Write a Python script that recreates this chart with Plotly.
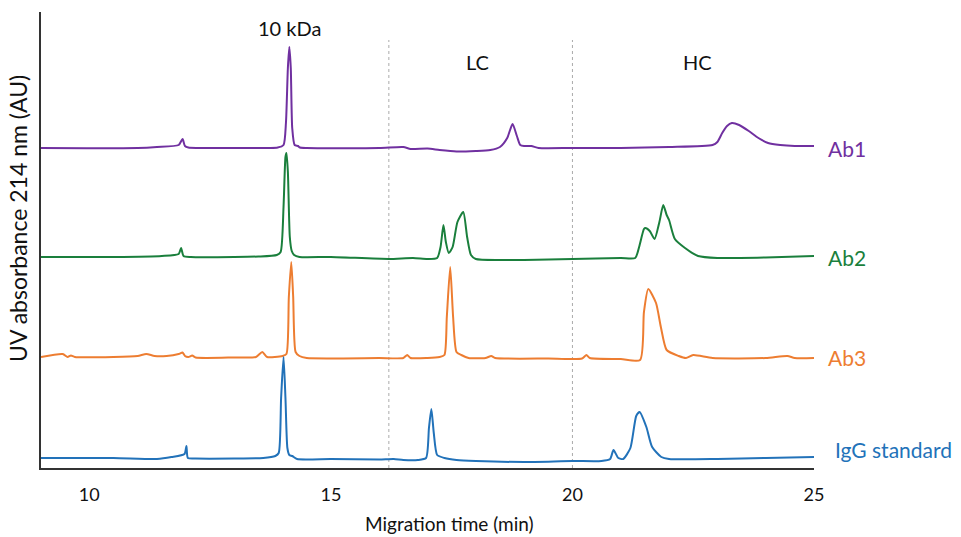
import plotly.graph_objects as go

# Migration time (min) and absorbance above each trace's own baseline (AU)
ab1_t = [9.0, 11.0, 11.4, 11.85, 11.93, 11.98, 12.05, 13.0, 13.9, 14.02, 14.07, 14.11, 14.14, 14.17, 14.20,
         14.25, 14.32, 14.36, 14.5, 16.0, 16.5, 16.65, 17.0, 17.25, 17.6, 18.0, 18.3, 18.5, 18.65, 18.76,
         18.85, 18.92, 19.0, 19.15, 19.3, 20.0, 21.0, 22.0, 22.9, 23.0, 23.1, 23.2, 23.3, 23.45, 23.65,
         23.85, 24.05, 24.3, 24.6, 25.0]
ab1_a = [0.0, 0.0, 0.01, 0.03, 0.09, 0.02, 0.005, 0.0, 0.005, 0.03, 0.25, 0.8, 1.01, 0.8, 0.2,
         0.03, 0.02, 0.005, 0.0, 0.0, 0.01, -0.01, -0.005, -0.02, -0.035, -0.03, -0.02, 0.01, 0.10, 0.24,
         0.12, 0.03, 0.02, 0.02, 0.0, 0.0, 0.0, 0.01, 0.03, 0.06, 0.15, 0.22, 0.25, 0.23, 0.17,
         0.10, 0.05, 0.03, 0.02, 0.02]

ab2_t = [9.0, 10.5, 11.5, 11.85, 11.9, 11.95, 12.1, 13.0, 13.5, 13.88, 13.96, 14.02, 14.06, 14.08, 14.11,
         14.15, 14.19, 14.24, 14.35, 15.0, 16.2, 16.7, 17.0, 17.2, 17.27, 17.33, 17.38, 17.44, 17.52, 17.62,
         17.74, 17.82, 17.9, 18.0, 18.5, 19.0, 20.0, 21.0, 21.3, 21.38, 21.48, 21.51, 21.6, 21.7, 21.8,
         21.88, 21.95, 22.0, 22.12, 22.33, 22.6, 23.0, 24.0, 25.0]
ab2_a = [0.0, 0.0, 0.01, 0.03, 0.09, 0.01, 0.0, 0.0, 0.005, 0.02, 0.05, 0.5, 1.0, 1.04, 0.85,
         0.2, 0.06, 0.02, 0.0, 0.0, -0.02, -0.01, -0.02, -0.01, 0.1, 0.32, 0.15, 0.04, 0.1, 0.35,
         0.45, 0.2, 0.02, -0.02, -0.03, -0.03, -0.02, -0.01, -0.01, 0.1, 0.28, 0.29, 0.26, 0.18, 0.35,
         0.52, 0.42, 0.37, 0.18, 0.09, 0.01, -0.01, -0.005, 0.01]

ab3_t = [9.0, 9.45, 9.55, 9.62, 9.7, 10.5, 11.0, 11.18, 11.35, 11.6, 11.85, 11.93, 11.98, 12.05, 12.13,
         12.2, 13.0, 13.45, 13.58, 13.68, 14.0, 14.08, 14.13, 14.18, 14.22, 14.27, 14.35, 14.5, 16.0, 16.5,
         16.58, 16.65, 17.0, 17.25, 17.35, 17.4, 17.47, 17.53, 17.6, 17.7, 17.85, 18.2, 18.32, 18.4, 19.5,
         20.2, 20.29, 20.36, 21.0, 21.4, 21.48, 21.57, 21.73, 21.83, 21.95, 22.2, 22.35, 22.5, 22.9, 24.0,
         24.45, 24.6, 25.0]
ab3_a = [0.0, 0.03, 0.0, 0.015, 0.0, 0.0, 0.01, 0.03, 0.01, 0.01, 0.03, 0.045, 0.01, 0.0, 0.015,
         -0.005, -0.005, 0.0, 0.05, 0.0, 0.01, 0.03, 0.6, 0.95, 0.6, 0.05, 0.01, -0.01, -0.01, -0.01,
         0.02, -0.01, -0.01, 0.0, 0.02, 0.4, 0.90, 0.4, 0.05, 0.02, -0.01, -0.01, 0.01, -0.01, -0.015,
         -0.015, 0.02, -0.01, -0.02, -0.03, 0.45, 0.68, 0.54, 0.30, 0.07, 0.01, -0.01, 0.02, -0.01, -0.01,
         0.01, -0.01, -0.01]

igg_t = [9.0, 10.5, 11.4, 11.7, 11.97, 12.01, 12.04, 12.2, 13.0, 13.6, 13.85, 13.92, 13.97, 14.02, 14.06,
         14.1, 14.14, 14.2, 14.3, 15.0, 16.0, 16.3, 16.5, 16.8, 16.97, 17.03, 17.08, 17.13, 17.2, 17.35,
         17.6, 18.0, 19.0, 20.0, 20.6, 20.78, 20.85, 20.95, 21.05, 21.2, 21.32, 21.39, 21.53, 21.65, 21.84,
         22.0, 23.0, 24.0, 25.0]
igg_a = [0.0, 0.0, -0.01, 0.01, 0.04, 0.12, 0.0, -0.005, -0.005, 0.0, 0.02, 0.05, 0.6, 1.01, 0.6,
         0.1, 0.03, 0.02, -0.01, -0.01, -0.015, -0.01, -0.02, -0.02, 0.0, 0.3, 0.49, 0.25, 0.03, 0.0,
         -0.02, -0.03, -0.04, -0.03, -0.03, -0.01, 0.08, 0.0, -0.01, 0.1, 0.42, 0.46, 0.31, 0.11, 0.01,
         -0.01, -0.01, 0.0, 0.01]

# Vertical stacking offsets (AU) and styling per sample
samples = ["Ab1", "Ab2", "Ab3", "IgG standard"]
offsets = [3.20, 2.11, 1.11, 0.10]
colors = ["#7030A0", "#1A7F3C", "#ED7D31", "#2272B9"]
times = [ab1_t, ab2_t, ab3_t, igg_t]
signals = [ab1_a, ab2_a, ab3_a, igg_a]

# Region markers and their labels
region_bounds = [16.2, 20.0]
region_labels = [("10 kDa", 14.14, 4.40), ("LC", 18.03, 4.06), ("HC", 22.58, 4.06)]

FONT = "Lato, Noto Sans, sans-serif"

fig = go.Figure()
for name, off, col, t, a in zip(samples, offsets, colors, times, signals):
    fig.add_trace(go.Scatter(
        x=t, y=[v + off for v in a], mode="lines", name=name,
        line=dict(color=col, width=2, shape="spline", smoothing=0.6),
        showlegend=False, hoverinfo="skip"))

for xb in region_bounds:
    fig.add_shape(type="line", xref="x", yref="y", x0=xb, x1=xb, y0=0, y1=4.28,
                  line=dict(color="#AAAAAA", width=1, dash="dot"), layer="below")

for text, xl, yl in region_labels:
    fig.add_annotation(x=xl, y=yl, xref="x", yref="y", text=text, showarrow=False,
                       font=dict(size=20, color="#111111", family=FONT))

# Sample names at the right end of each trace
name_x = [1.016, 1.016, 1.016, 1.025]
name_y = [offsets[0], offsets[1], offsets[2], offsets[3] + 0.09]
for name, col, nx, ny in zip(samples, colors, name_x, name_y):
    fig.add_annotation(x=nx, y=ny, xref="paper", yref="y", text=name, showarrow=False,
                       xanchor="left", yanchor="middle",
                       font=dict(size=21, color=col, family=FONT))

fig.add_annotation(x=-0.03, y=0.548, xref="paper", yref="paper", text="UV absorbance 214 nm (AU)",
                   showarrow=False, textangle=-90, xanchor="center", yanchor="middle",
                   font=dict(size=23, color="#111111", family=FONT))
fig.add_annotation(x=0.528, y=-0.122, xref="paper", yref="paper", text="Migration time (min)",
                   showarrow=False, xanchor="center", yanchor="middle",
                   font=dict(size=19, color="#111111", family=FONT))

fig.update_layout(
    width=961, height=537,
    margin=dict(l=41, r=147, t=12, b=69),
    plot_bgcolor="white", paper_bgcolor="white",
    font=dict(family=FONT, size=18, color="#111111"),
    xaxis=dict(range=[9, 25], tickvals=[10, 15, 20, 25], showline=True, linecolor="#333333",
               linewidth=1.5, showgrid=False, zeroline=False, ticks="", ticklabelstandoff=10,
               tickfont=dict(size=18, family=FONT, color="#111111")),
    yaxis=dict(range=[0, 4.56], showline=True, linecolor="#333333", linewidth=1.5,
               showgrid=False, zeroline=False, showticklabels=False, ticks=""),
)

fig.write_html("out.html")
